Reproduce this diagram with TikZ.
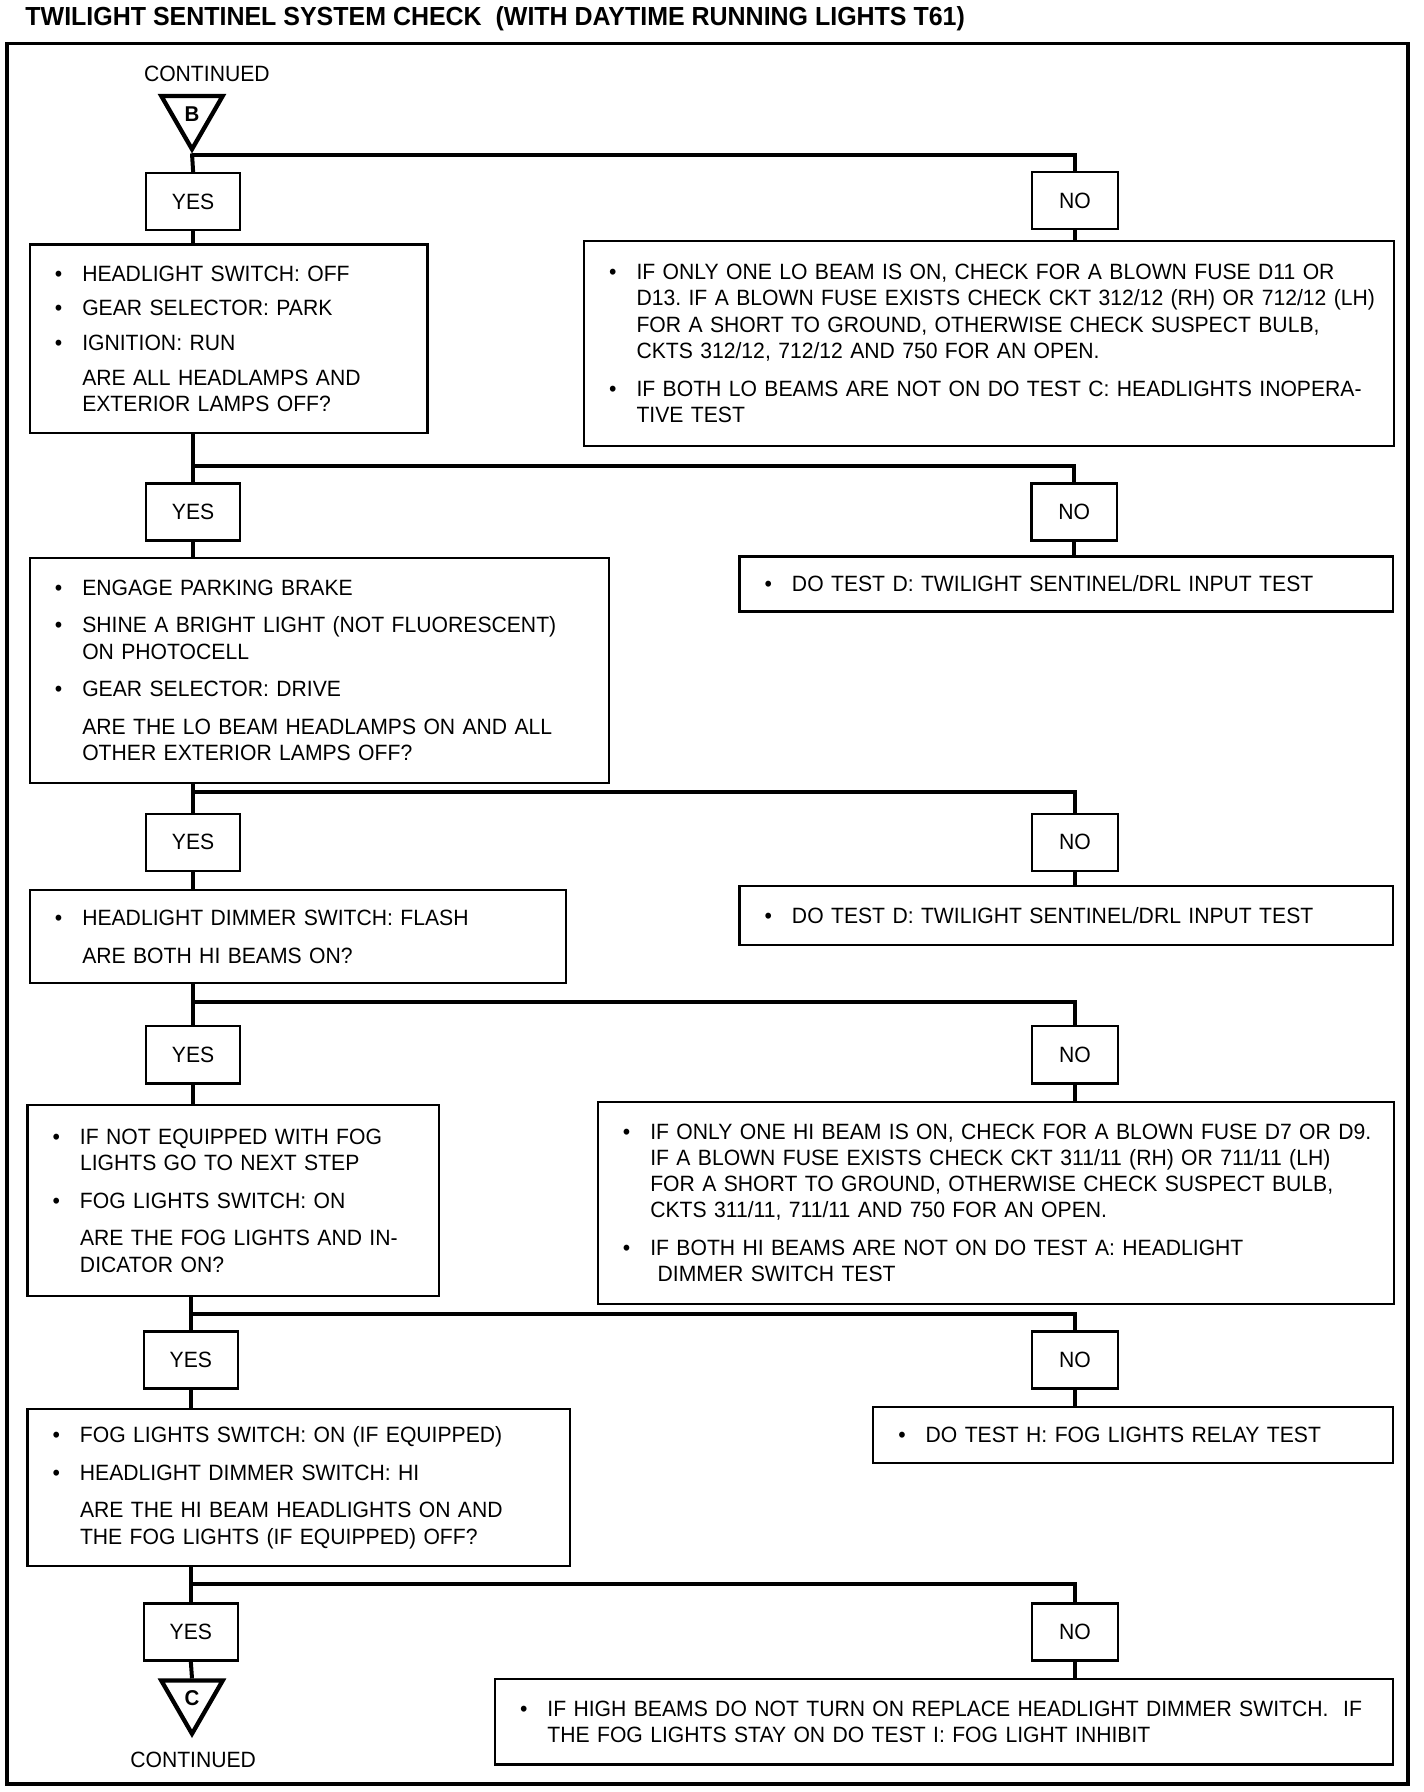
\documentclass[tikz,border=0pt]{standalone}
\usepackage{fontspec}
\setmainfont[FakeStretch=0.955]{Liberation Sans}
\usepackage{tikz}
\usetikzlibrary{positioning,shapes.geometric}

\newcommand{\bl}[1]{\mbox{\makebox[19.2pt][l]{\textbullet}#1}}
\newcommand{\ind}[1]{\mbox{\hspace*{19.2pt}#1}}

\begin{document}
\frenchspacing
\begin{tikzpicture}[x=0.8pt,y=-0.8pt,
    panel/.style={draw,line width=1.6pt,anchor=north west,align=left,
        inner xsep=17.6pt,inner ysep=0pt,font=\fontsize{15.5pt}{18.4pt}\selectfont},
    answer/.style={draw,line width=1.6pt,minimum height=40pt,inner sep=0pt,
        font=\fontsize{15.5pt}{18pt}\selectfont},
    yesbox/.style={answer,minimum width=65.6pt},
    nobox/.style={answer,minimum width=60pt},
    link/.style={line width=2.8pt},
    conn/.style={regular polygon,regular polygon sides=3,shape border rotate=180,
        draw,line width=3pt,minimum size=49.6pt,inner sep=0pt,
        font=\bfseries\fontsize{15pt}{15pt}\selectfont}]
    \useasboundingbox (0,0) rectangle (1246,1568);
    % Title and frame
    \node[anchor=west,inner sep=0pt,font=\bfseries\fontsize{18.3pt}{20pt}\selectfont] (title) at (22,16)
        {TWILIGHT SENTINEL SYSTEM CHECK\ \ (WITH DAYTIME RUNNING LIGHTS T61)};
    \draw[line width=2.4pt] (6,38) rectangle (1232,1561);
    % Entry
    \node[font=\fontsize{15.5pt}{18pt}\selectfont] (cont1) at (181,65) {CONTINUED};
    \node[conn] (trb) at (168,99.5) {B};
    % Step 1
    \node[yesbox] (yes1) at (169,176.5) {YES};
    \node[nobox] (no1) at (940.5,175.5) {NO};
    \node[panel,minimum width=278.4pt,minimum height=132pt,text width=243.2pt] (a1) at (25,213)
        {\bl{HEADLIGHT SWITCH: OFF}\\[6pt]
         \bl{GEAR SELECTOR: PARK}\\[6pt]
         \bl{IGNITION: RUN}\\[6pt]
         \ind{ARE ALL HEADLAMPS AND}\\
         \ind{EXTERIOR LAMPS OFF?}};
    \node[panel,minimum width=567.2pt,minimum height=143.2pt,text width=532pt] (a2) at (510,210)
        {\bl{IF ONLY ONE LO BEAM IS ON, CHECK FOR A BLOWN FUSE D11 OR}\\
         \ind{D13. IF A BLOWN FUSE EXISTS CHECK CKT 312/12 (RH) OR 712/12 (LH)}\\
         \ind{FOR A SHORT TO GROUND, OTHERWISE CHECK SUSPECT BULB,}\\
         \ind{CKTS 312/12, 712/12 AND 750 FOR AN OPEN.}\\[8pt]
         \bl{IF BOTH LO BEAMS ARE NOT ON DO TEST C: HEADLIGHTS INOPERA-}\\
         \ind{TIVE TEST}};
    % Step 2
    \node[yesbox] (yes2) at (169,448) {YES};
    \node[nobox] (no2) at (940,448) {NO};
    \node[panel,minimum width=405.6pt,minimum height=157.6pt,text width=370.4pt] (b1) at (25,487)
        {\bl{ENGAGE PARKING BRAKE}\\[8pt]
         \bl{SHINE A BRIGHT LIGHT (NOT FLUORESCENT)}\\
         \ind{ON PHOTOCELL}\\[8pt]
         \bl{GEAR SELECTOR: DRIVE}\\[8pt]
         \ind{ARE THE LO BEAM HEADLAMPS ON AND ALL}\\
         \ind{OTHER EXTERIOR LAMPS OFF?}};
    \node[panel,minimum width=457.6pt,minimum height=38.4pt,text width=422.4pt] (b2) at (646,486)
        {\bl{DO TEST D: TWILIGHT SENTINEL/DRL INPUT TEST}};
    % Step 3
    \node[yesbox] (yes3) at (169,737) {YES};
    \node[nobox] (no3) at (940.5,737) {NO};
    \node[panel,minimum width=375.2pt,minimum height=64.8pt,text width=340pt] (c1) at (25,778)
        {\bl{HEADLIGHT DIMMER SWITCH: FLASH}\\[8pt]
         \ind{ARE BOTH HI BEAMS ON?}};
    \node[panel,minimum width=457.6pt,minimum height=41.6pt,text width=422.4pt] (c2) at (646,774)
        {\bl{DO TEST D: TWILIGHT SENTINEL/DRL INPUT TEST}};
    % Step 4
    \node[yesbox] (yes4) at (169,923) {YES};
    \node[nobox] (no4) at (940.5,923) {NO};
    \node[panel,minimum width=288pt,minimum height=133.6pt,text width=252.8pt] (d1) at (23,966)
        {\bl{IF NOT EQUIPPED WITH FOG}\\
         \ind{LIGHTS GO TO NEXT STEP}\\[8pt]
         \bl{FOG LIGHTS SWITCH: ON}\\[8pt]
         \ind{ARE THE FOG LIGHTS AND IN-}\\
         \ind{DICATOR ON?}};
    \node[panel,minimum width=557.6pt,minimum height=141.6pt,text width=522.4pt] (d2) at (522,963)
        {\bl{IF ONLY ONE HI BEAM IS ON, CHECK FOR A BLOWN FUSE D7 OR D9.}\\
         \ind{IF A BLOWN FUSE EXISTS CHECK CKT 311/11 (RH) OR 711/11 (LH)}\\
         \ind{FOR A SHORT TO GROUND, OTHERWISE CHECK SUSPECT BULB,}\\
         \ind{CKTS 311/11, 711/11 AND 750 FOR AN OPEN.}\\[8pt]
         \bl{IF BOTH HI BEAMS ARE NOT ON DO TEST A: HEADLIGHT}\\
         \ind{\ DIMMER SWITCH TEST}};
    % Step 5
    \node[yesbox] (yes5) at (167,1190) {YES};
    \node[nobox] (no5) at (940.5,1190) {NO};
    \node[panel,minimum width=380pt,minimum height=109.6pt,text width=344.8pt] (e1) at (23,1232)
        {\bl{FOG LIGHTS SWITCH: ON (IF EQUIPPED)}\\[8pt]
         \bl{HEADLIGHT DIMMER SWITCH: HI}\\[8pt]
         \ind{ARE THE HI BEAM HEADLIGHTS ON AND}\\
         \ind{THE FOG LIGHTS (IF EQUIPPED) OFF?}};
    \node[panel,minimum width=364pt,minimum height=39.2pt,text width=328.8pt] (e2) at (763,1230)
        {\bl{DO TEST H: FOG LIGHTS RELAY TEST}};
    % Step 6
    \node[yesbox] (yes6) at (167,1428) {YES};
    \node[nobox] (no6) at (940.5,1428) {NO};
    \node[panel,minimum width=628.8pt,minimum height=60pt,text width=593.6pt] (f2) at (432,1468)
        {\bl{IF HIGH BEAMS DO NOT TURN ON REPLACE HEADLIGHT DIMMER SWITCH.\ \ IF}\\
         \ind{THE FOG LIGHTS STAY ON DO TEST I: FOG LIGHT INHIBIT}};
    % Exit
    \node[conn] (trc) at (168,1486) {C};
    \node[font=\fontsize{15.5pt}{18pt}\selectfont] (cont2) at (169,1540) {CONTINUED};
    % Branch points
    \coordinate (j1) at (168,136);
    \coordinate (j2) at (168,408);
    \coordinate (j3) at (168,693);
    \coordinate (j4) at (168,877);
    \coordinate (j5) at (168,1150);
    \coordinate (j6) at (168,1386);
    % Connectors
    \draw[link] (trb.south) -- (yes1.north);
    \draw[link] (j1) -| (no1.north);
    \draw[link] (yes1.south) -- (yes1.south |- a1.north);
    \draw[link] (no1.south) -- (no1.south |- a2.north);
    \draw[link] (yes2.north |- a1.south) -- (yes2.north);
    \draw[link] (j2) -| (no2.north);
    \draw[link] (yes2.south) -- (yes2.south |- b1.north);
    \draw[link] (no2.south) -- (no2.south |- b2.north);
    \draw[link] (yes3.north |- b1.south) -- (yes3.north);
    \draw[link] (j3) -| (no3.north);
    \draw[link] (yes3.south) -- (yes3.south |- c1.north);
    \draw[link] (no3.south) -- (no3.south |- c2.north);
    \draw[link] (yes4.north |- c1.south) -- (yes4.north);
    \draw[link] (j4) -| (no4.north);
    \draw[link] (yes4.south) -- (yes4.south |- d1.north);
    \draw[link] (no4.south) -- (no4.south |- d2.north);
    \draw[link] (yes5.north |- d1.south) -- (yes5.north);
    \draw[link] (j5) -| (no5.north);
    \draw[link] (yes5.south) -- (yes5.south |- e1.north);
    \draw[link] (no5.south) -- (no5.south |- e2.north);
    \draw[link] (yes6.north |- e1.south) -- (yes6.north);
    \draw[link] (j6) -| (no6.north);
    \draw[link] (yes6.south) -- (trc.north);
    \draw[link] (no6.south) -- (no6.south |- f2.north);
\end{tikzpicture}
\end{document}
